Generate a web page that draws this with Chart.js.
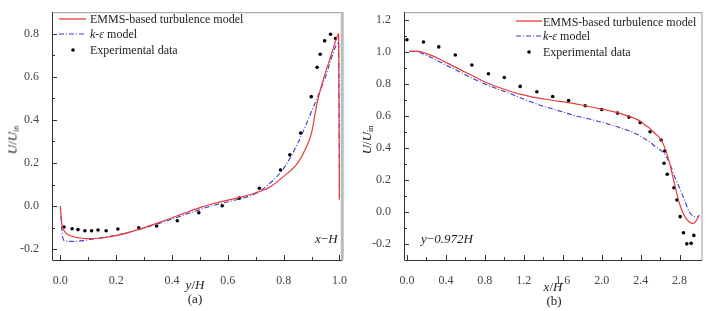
<!DOCTYPE html>
<html>
<head>
<meta charset="utf-8">
<script src="https://cdn.jsdelivr.net/npm/chart.js@4.4.1/dist/chart.umd.min.js"></script>
<style>
  body { margin: 0; background: #fff; }
  #wrap { position: relative; width: 706px; height: 311px; overflow: hidden; font-family: 'Liberation Serif', 'Times New Roman', serif; color: #222; }
  canvas { position: absolute; top: 0; }
  .t { position: absolute; font-size: 12px; white-space: nowrap; line-height: 1; }
  .c { transform: translate(-50%, -50%); }
  .l { transform: translate(0, -50%); }
  .rot { transform: translate(-50%, -50%) rotate(-90deg); font-size: 13px; }
  sub { font-size: 8px; vertical-align: -2px; }
  svg { position: absolute; overflow: visible; }
</style>
</head>
<body>
<div id="wrap">
  <canvas id="chartA" width="353" height="311" style="left:0"></canvas>
  <canvas id="chartB" width="353" height="311" style="left:353px"></canvas>

  <div class="t rot" style="left:13px;top:140px"><i>U</i>/<i>U</i><sub>in</sub></div>
  <div class="t c" style="left:195px;top:284px;font-size:13px"><i>y</i>/<i>H</i></div>
  <div class="t c" style="left:195px;top:298px;font-size:13px">(a)</div>
  <div class="t l" style="left:315px;top:238px;font-size:13px"><i>x</i>&minus;<i>H</i></div>

  <div class="t rot" style="left:367px;top:140px"><i>U</i>/<i>U</i><sub>in</sub></div>
  <div class="t c" style="left:553px;top:286px;font-size:13px"><i>x</i>/<i>H</i></div>
  <div class="t c" style="left:554px;top:300px;font-size:13px">(b)</div>
  <div class="t l" style="left:421px;top:238px;font-size:13px"><i>y</i>&minus;<i>0.972H</i></div>

  <svg style="left:0;top:0" width="706" height="311">
    <line x1="59" y1="19" x2="86" y2="19" stroke="#e83a3a" stroke-width="1.3"/>
    <line x1="59" y1="34" x2="86" y2="34" stroke="#3a3acc" stroke-width="1.2" stroke-dasharray="5,2,1,2"/>
    <circle cx="73" cy="50" r="1.8" fill="#000"/>
    <line x1="516" y1="21" x2="542" y2="21" stroke="#e83a3a" stroke-width="1.3"/>
    <line x1="516" y1="36" x2="542" y2="36" stroke="#3a3acc" stroke-width="1.2" stroke-dasharray="5,2,1,2"/>
    <circle cx="529" cy="52" r="1.8" fill="#000"/>
  </svg>
  <div class="t l" style="left:90px;top:19px">EMMS-based turbulence model</div>
  <div class="t l" style="left:90px;top:34px"><i>k</i>-<i>&epsilon;</i> model</div>
  <div class="t l" style="left:90px;top:50px">Experimental data</div>
  <div class="t l" style="left:543px;top:21.5px">EMMS-based turbulence model</div>
  <div class="t l" style="left:543px;top:36px"><i>k</i>-<i>&epsilon;</i> model</div>
  <div class="t l" style="left:543px;top:52px">Experimental data</div>
</div>

<script>
// ---- panel (a): profile along y/H at x = H ----
const yTicksA = [-0.2, 0.0, 0.2, 0.4, 0.6, 0.8];
const xTicksA = [0.0, 0.2, 0.4, 0.6, 0.8, 1.0];

const expA_x = [0.013, 0.042, 0.063, 0.088, 0.112, 0.135, 0.164, 0.206, 0.281, 0.345, 0.419, 0.496, 0.58, 0.641, 0.713, 0.789, 0.822, 0.861, 0.899, 0.92, 0.931, 0.947, 0.968, 0.986];
const expA_y = [-0.097, -0.105, -0.109, -0.114, -0.114, -0.111, -0.114, -0.106, -0.101, -0.092, -0.068, -0.031, 0.002, 0.037, 0.083, 0.168, 0.238, 0.339, 0.508, 0.644, 0.705, 0.767, 0.798, 0.778];

const emmsA_x = [0, 0.004, 0.01, 0.02, 0.04, 0.07, 0.1, 0.14, 0.2, 0.25, 0.3, 0.35, 0.4, 0.45, 0.5, 0.55, 0.6, 0.65, 0.7, 0.75, 0.8, 0.85, 0.88, 0.9, 0.92, 0.945, 0.97, 0.99, 0.997, 1.0];
const emmsA_y = [-0.005, -0.07, -0.105, -0.125, -0.14, -0.148, -0.151, -0.149, -0.137, -0.12, -0.1, -0.078, -0.054, -0.03, -0.007, 0.012, 0.028, 0.043, 0.062, 0.088, 0.138, 0.2, 0.27, 0.34, 0.48, 0.6, 0.7, 0.78, 0.8, 0.03];

const keA_x = [0, 0.003, 0.007, 0.012, 0.03, 0.05, 0.08, 0.11, 0.15, 0.2, 0.25, 0.3, 0.35, 0.4, 0.45, 0.5, 0.55, 0.6, 0.65, 0.7, 0.75, 0.8, 0.85, 0.9, 0.95, 0.98, 0.997, 1.0];
const keA_y = [0, -0.07, -0.135, -0.158, -0.163, -0.164, -0.16, -0.154, -0.146, -0.134, -0.12, -0.102, -0.082, -0.06, -0.038, -0.016, 0.004, 0.02, 0.036, 0.058, 0.105, 0.175, 0.29, 0.44, 0.6, 0.72, 0.76, 0.03];

// ---- panel (b): profile along x/H at y = 0.972H ----
const yTicksB = [-0.2, 0.0, 0.2, 0.4, 0.6, 0.8, 1.0, 1.2];
const xTicksB = [0.0, 0.4, 0.8, 1.2, 1.6, 2.0, 2.4, 2.8];

const expB_x = [0.0, 0.17, 0.327, 0.497, 0.667, 0.837, 1.0, 1.163, 1.334, 1.497, 1.66, 1.83, 2.0, 2.163, 2.28, 2.395, 2.497, 2.61, 2.647, 2.64, 2.673, 2.742, 2.773, 2.806, 2.84, 2.874, 2.918, 2.946];
const expB_y = [1.078, 1.064, 1.033, 0.982, 0.92, 0.865, 0.842, 0.786, 0.752, 0.723, 0.698, 0.665, 0.641, 0.619, 0.594, 0.56, 0.502, 0.451, 0.382, 0.305, 0.236, 0.152, 0.075, -0.029, -0.13, -0.199, -0.196, -0.146];

const emmsB_x = [0.027, 0.1, 0.163, 0.25, 0.334, 0.42, 0.504, 0.59, 0.673, 0.76, 0.844, 0.93, 1.014, 1.1, 1.184, 1.27, 1.354, 1.44, 1.524, 1.61, 1.694, 1.78, 1.864, 1.95, 2.034, 2.12, 2.204, 2.28, 2.341, 2.4, 2.443, 2.5, 2.545, 2.6, 2.65, 2.7, 2.75, 2.8, 2.85, 2.9, 2.94, 2.97, 3.0];
const emmsB_y = [1.005, 1.006, 0.999, 0.98, 0.957, 0.93, 0.905, 0.878, 0.853, 0.826, 0.802, 0.782, 0.765, 0.748, 0.734, 0.722, 0.713, 0.704, 0.696, 0.689, 0.681, 0.671, 0.66, 0.65, 0.64, 0.628, 0.614, 0.598, 0.585, 0.567, 0.545, 0.52, 0.493, 0.46, 0.4, 0.3, 0.17, 0.05, -0.025, -0.062, -0.072, -0.055, -0.02];

const keB_x = [0.027, 0.1, 0.163, 0.25, 0.334, 0.42, 0.504, 0.59, 0.673, 0.76, 0.844, 0.93, 1.014, 1.1, 1.184, 1.27, 1.354, 1.44, 1.524, 1.61, 1.694, 1.78, 1.864, 1.95, 2.034, 2.12, 2.204, 2.29, 2.374, 2.45, 2.51, 2.56, 2.61, 2.65, 2.7, 2.75, 2.8, 2.85, 2.9, 2.95, 2.98, 3.0];
const keB_y = [1.005, 1.003, 0.99, 0.966, 0.94, 0.914, 0.888, 0.862, 0.836, 0.812, 0.79, 0.77, 0.752, 0.731, 0.71, 0.69, 0.671, 0.655, 0.64, 0.624, 0.608, 0.595, 0.583, 0.57, 0.556, 0.541, 0.525, 0.506, 0.483, 0.455, 0.43, 0.405, 0.385, 0.36, 0.3, 0.22, 0.15, 0.075, 0.0, -0.03, -0.033, -0.02];

const RED = '#e83a3a';
const BLUE = '#3a3acc';
const TICK_FONT = {family: "'Liberation Serif', 'Times New Roman', serif", size: 12, weight: 'normal'};

function pts(xs, ys) {
    return xs.map((x, i) => ({x: x, y: ys[i]}));
}

// inward major/minor ticks and the plot frame
const frameTicks = {
    id: 'frameTicks',
    afterDraw(chart, args, opts) {
        const ctx = chart.ctx;
        const a = chart.chartArea;
        const sx = chart.scales.x, sy = chart.scales.y;
        ctx.save();
        ctx.lineWidth = 1;
        ctx.strokeStyle = '#999';
        ctx.beginPath();
        ctx.moveTo(a.left, a.top + 0.5); ctx.lineTo(a.right, a.top + 0.5);
        ctx.stroke();
        ctx.strokeStyle = opts.rightColor;
        ctx.lineWidth = opts.rightWidth;
        ctx.beginPath();
        ctx.moveTo(a.right, a.top); ctx.lineTo(a.right, a.bottom);
        ctx.stroke();

        ctx.strokeStyle = '#333';
        ctx.lineWidth = 1;
        ctx.beginPath();
        ctx.moveTo(a.left + 0.5, a.top); ctx.lineTo(a.left + 0.5, a.bottom + 0.5);
        ctx.lineTo(a.right, a.bottom + 0.5);
        ctx.stroke();

        const xv = sx.ticks.map(t => t.value);
        const yv = sy.ticks.map(t => t.value);
        ctx.beginPath();
        xv.forEach((v, i) => {
            const p = Math.round(sx.getPixelForValue(v)) + 0.5;
            ctx.moveTo(p, a.bottom); ctx.lineTo(p, a.bottom - 5);
            if (i < xv.length - 1) {
                const m = Math.round(sx.getPixelForValue((v + xv[i + 1]) / 2)) + 0.5;
                ctx.moveTo(m, a.bottom); ctx.lineTo(m, a.bottom - 3);
            }
        });
        yv.forEach((v, i) => {
            const p = Math.round(sy.getPixelForValue(v)) + 0.5;
            ctx.moveTo(a.left, p); ctx.lineTo(a.left + 5, p);
            if (i < yv.length - 1) {
                const m = Math.round(sy.getPixelForValue((v + yv[i + 1]) / 2)) + 0.5;
                ctx.moveTo(a.left, m); ctx.lineTo(a.left + 3, m);
            }
        });
        ctx.stroke();
        ctx.restore();
    }
};

function make_chart(id, o) {
    const ctx = document.getElementById(id).getContext('2d');
    return new Chart(ctx, {
        type: 'scatter',
        data: {
            datasets: [{
                data: pts(o.emmsX, o.emmsY),
                showLine: true,
                borderColor: RED,
                borderWidth: 1.2,
                pointRadius: 0,
                cubicInterpolationMode: 'monotone'
            }, {
                data: pts(o.keX, o.keY),
                showLine: true,
                borderColor: BLUE,
                borderWidth: 1.1,
                borderDash: [5, 2, 1, 2],
                pointRadius: 0,
                cubicInterpolationMode: 'monotone'
            }, {
                data: pts(o.expX, o.expY),
                showLine: false,
                pointRadius: 1.8,
                pointBackgroundColor: '#000',
                pointBorderWidth: 0
            }]
        },
        options: {
            responsive: false,
            animation: false,
            events: [],
            layout: {
                padding: {top: 12, right: o.padRight, left: 0, bottom: 0}
            },
            plugins: {
                legend: {display: false},
                tooltip: {enabled: false},
                frameTicks: {rightColor: o.rightColor, rightWidth: o.rightWidth}
            },
            scales: {
                x: {
                    type: 'linear',
                    min: o.xMin,
                    max: o.xMax,
                    afterBuildTicks: s => { s.ticks = o.xTicks.map(v => ({value: v})); },
                    afterFit: s => { s.height = 51; },
                    grid: {display: false},
                    border: {display: false},
                    ticks: {
                        padding: 6,
                        color: '#444',
                        font: TICK_FONT,
                        maxRotation: 0,
                        callback: v => v.toFixed(1)
                    }
                },
                y: {
                    type: 'linear',
                    min: o.yMin,
                    max: o.yMax,
                    afterBuildTicks: s => { s.ticks = o.yTicks.map(v => ({value: v})); },
                    afterFit: s => { s.width = o.yWidth; },
                    grid: {display: false},
                    border: {display: false},
                    ticks: {
                        padding: 5,
                        color: '#444',
                        font: TICK_FONT,
                        callback: v => v.toFixed(1)
                    }
                }
            }
        },
        plugins: [frameTicks]
    });
}

window.onload = () => {
    make_chart('chartA', {
        emmsX: emmsA_x, emmsY: emmsA_y, keX: keA_x, keY: keA_y, expX: expA_x, expY: expA_y,
        xMin: -0.03, xMax: 1.01, yMin: -0.25, yMax: 0.9,
        xTicks: xTicksA, yTicks: yTicksA, yWidth: 52, padRight: 4,
        rightColor: '#bbb', rightWidth: 3
    });
    make_chart('chartB', {
        emmsX: emmsB_x, emmsY: emmsB_y, keX: keB_x, keY: keB_y, expX: expB_x, expY: expB_y,
        xMin: -0.03, xMax: 3.03, yMin: -0.3, yMax: 1.25,
        xTicks: xTicksB, yTicks: yTicksB, yWidth: 51, padRight: 3,
        rightColor: '#999', rightWidth: 1
    });
};
</script>
</body>
</html>
